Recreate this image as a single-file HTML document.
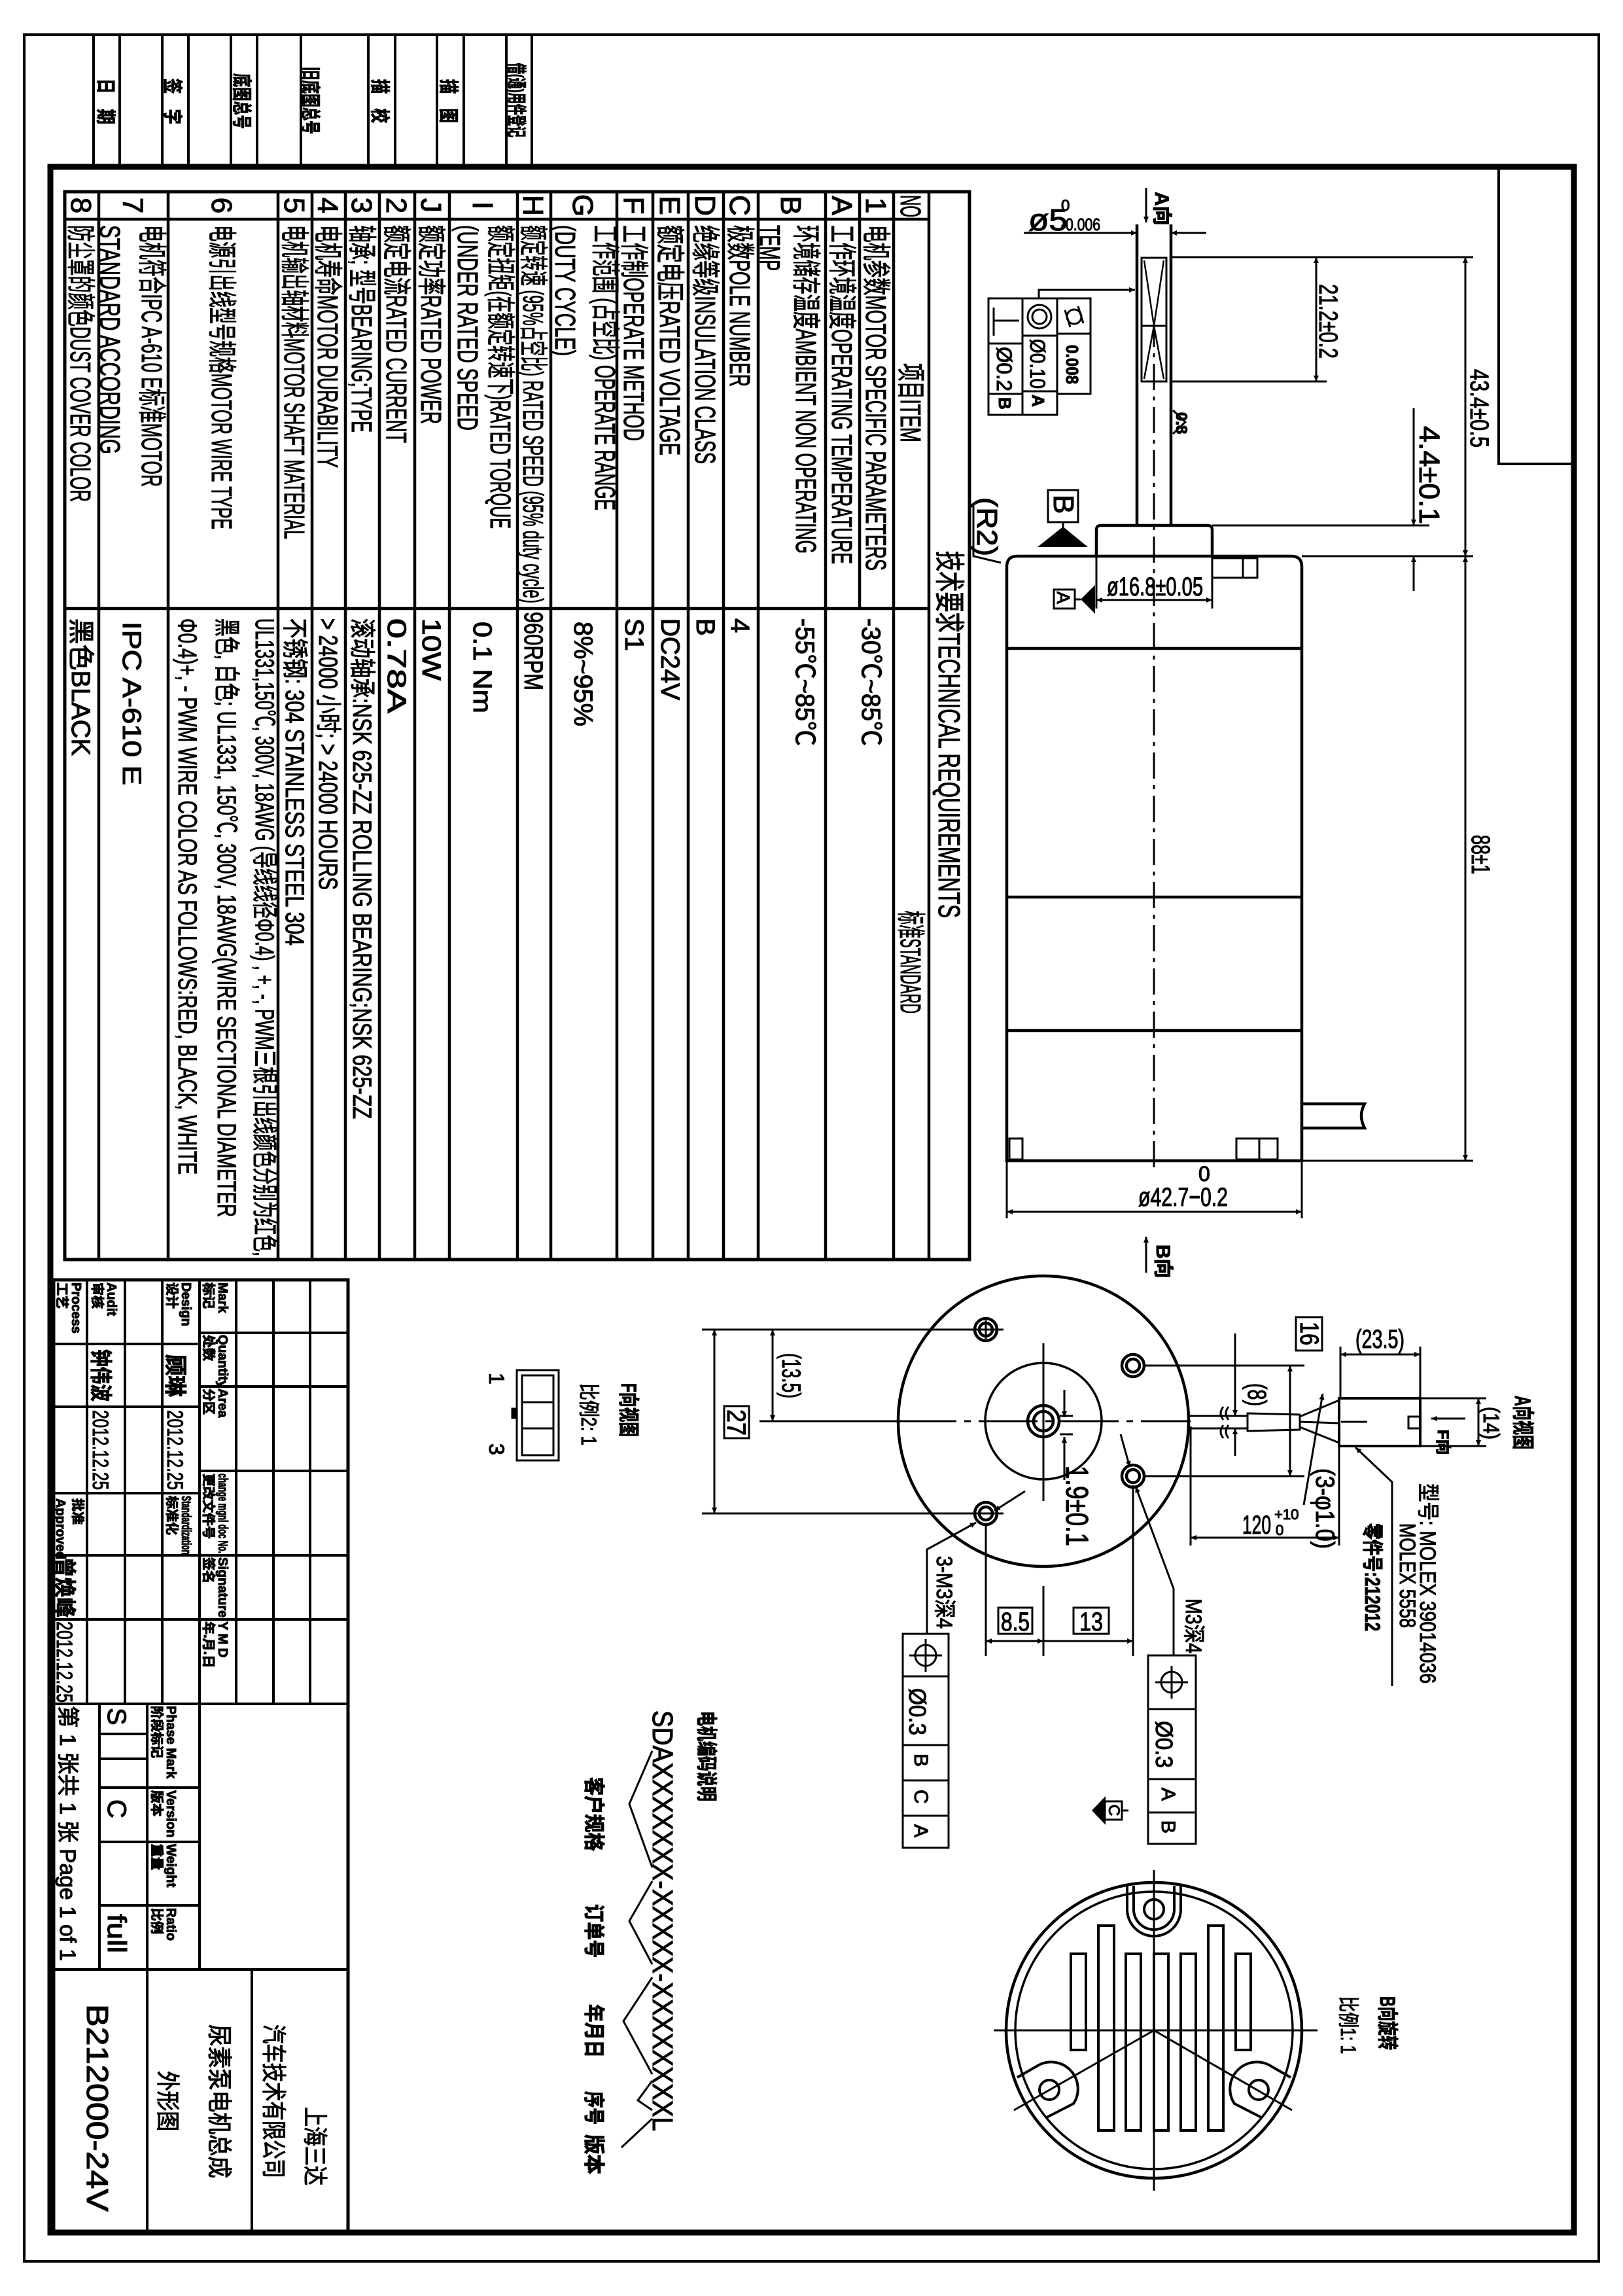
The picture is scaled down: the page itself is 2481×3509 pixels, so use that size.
<!DOCTYPE html>
<html><head><meta charset="utf-8"><style>
html,body{margin:0;padding:0;background:#fff}
svg{display:block}
text{font-family:"Liberation Sans Narrow","Liberation Sans","Noto Sans CJK SC",sans-serif;fill:#000;stroke:#000;stroke-width:1.1}
.b{font-weight:bold}
</style></head><body>
<svg width="2481" height="3509" viewBox="0 0 2481 3509" xmlns="http://www.w3.org/2000/svg">
<defs>
<marker id="a" viewBox="0 0 10 10" refX="10" refY="5" markerWidth="24" markerHeight="9" markerUnits="userSpaceOnUse" orient="auto-start-reverse"><path d="M0,0.5 L10,5 L0,9.5z"/></marker>
</defs>
<g fill="none" stroke="#000">
<rect x="37" y="53" width="2407" height="3403" stroke-width="4"/>
<rect x="77" y="255" width="2329" height="3157" stroke-width="9"/>
<g stroke-width="4">
<line x1="143" y1="53" x2="143" y2="255"/><line x1="183" y1="53" x2="183" y2="255"/>
<line x1="248" y1="53" x2="248" y2="255"/><line x1="288" y1="53" x2="288" y2="255"/>
<line x1="353" y1="53" x2="353" y2="255"/><line x1="393" y1="53" x2="393" y2="255"/>
<line x1="460" y1="53" x2="460" y2="255"/><line x1="563" y1="53" x2="563" y2="255"/>
<line x1="604" y1="53" x2="604" y2="255"/><line x1="668" y1="53" x2="668" y2="255"/>
<line x1="709" y1="53" x2="709" y2="255"/><line x1="774" y1="53" x2="774" y2="255"/>
<line x1="813" y1="53" x2="813" y2="255"/>
</g>
<polyline points="2291,255 2291,709 2406,709" stroke-width="4"/>
<rect x="99" y="293" width="1383" height="1632" stroke-width="5"/>
<g stroke-width="4.5">
<line x1="151" y1="293" x2="151" y2="1925"/><line x1="257" y1="293" x2="257" y2="1925"/>
<line x1="425" y1="293" x2="425" y2="1925"/><line x1="477" y1="293" x2="477" y2="1925"/>
<line x1="528" y1="293" x2="528" y2="1925"/><line x1="580" y1="293" x2="580" y2="1925"/>
<line x1="634" y1="293" x2="634" y2="1925"/><line x1="687" y1="293" x2="687" y2="1925"/>
<line x1="791" y1="293" x2="791" y2="1925"/><line x1="842" y1="293" x2="842" y2="1925"/>
<line x1="943" y1="293" x2="943" y2="1925"/><line x1="998" y1="293" x2="998" y2="1925"/>
<line x1="1052" y1="293" x2="1052" y2="1925"/><line x1="1106" y1="293" x2="1106" y2="1925"/>
<line x1="1159" y1="293" x2="1159" y2="1925"/><line x1="1262" y1="293" x2="1262" y2="1925"/>
<line x1="1314" y1="293" x2="1314" y2="930"/><line x1="1366" y1="293" x2="1366" y2="1925"/>
<line x1="1420" y1="293" x2="1420" y2="1925"/>
<line x1="99" y1="335" x2="1420" y2="335"/>
<line x1="99" y1="930" x2="1420" y2="930"/>
</g>
<g stroke-width="4">
<rect x="82" y="1956" width="450" height="1454" stroke-width="5"/>
<line x1="133" y1="1956" x2="133" y2="2604"/><line x1="191" y1="1956" x2="191" y2="2604"/>
<line x1="248" y1="1956" x2="248" y2="2604"/><line x1="305" y1="1956" x2="305" y2="2604"/>
<line x1="361" y1="1956" x2="361" y2="2604"/><line x1="418" y1="1956" x2="418" y2="2604"/>
<line x1="474" y1="1956" x2="474" y2="2604"/>
<line x1="82" y1="2054" x2="305" y2="2054"/><line x1="82" y1="2150" x2="305" y2="2150"/>
<line x1="82" y1="2282" x2="305" y2="2282"/><line x1="82" y1="2377" x2="532" y2="2377"/>
<line x1="82" y1="2475" x2="532" y2="2475"/>
<line x1="305" y1="2037" x2="532" y2="2037"/><line x1="305" y1="2119" x2="532" y2="2119"/>
<line x1="305" y1="2248" x2="532" y2="2248"/>
<line x1="82" y1="2604" x2="532" y2="2604"/>
<line x1="152" y1="2604" x2="152" y2="3010"/><line x1="225" y1="2604" x2="225" y2="3410"/>
<line x1="305" y1="2604" x2="305" y2="3010"/>
<line x1="152" y1="2650" x2="225" y2="2650"/><line x1="152" y1="2688" x2="225" y2="2688"/>
<line x1="152" y1="2732" x2="305" y2="2732"/><line x1="152" y1="2815" x2="305" y2="2815"/>
<line x1="152" y1="2912" x2="305" y2="2912"/>
<line x1="82" y1="3010" x2="532" y2="3010"/>
<line x1="385" y1="3010" x2="385" y2="3410"/>
</g>

<g stroke-width="4.5">
<path d="M1539,1774 L1539,866 Q1539,850 1555,850 L1974,850 Q1990,850 1990,866 L1990,1774 Z"/>
<line x1="1539" y1="991" x2="1990" y2="991"/><line x1="1539" y1="1371" x2="1990" y2="1371"/>
<line x1="1539" y1="1575" x2="1990" y2="1575"/>
<path d="M1676,850 L1676,810 Q1676,803 1683,803 L1846,803 Q1853,803 1853,810 L1853,850"/>
<line x1="1738" y1="343" x2="1738" y2="803"/><line x1="1790" y1="343" x2="1790" y2="803"/>
<rect x="1745" y="394" width="38" height="189" stroke-width="3"/>
<line x1="1745" y1="498" x2="1783" y2="498" stroke-width="3"/>
<path d="M1749,398 L1764,498 L1779,398 M1749,579 L1764,498 L1779,579" stroke-width="2.5"/>
<rect x="1853" y="853" width="69" height="30" stroke-width="3"/>
<line x1="1900" y1="853" x2="1900" y2="883" stroke-width="3"/>
<rect x="1543" y="1740" width="20" height="32" stroke-width="3"/>
<rect x="1890" y="1740" width="63" height="32" stroke-width="3"/>
<line x1="1925" y1="1740" x2="1925" y2="1772" stroke-width="3"/>
<path d="M1990,1687 L2086,1687 Q2076,1705 2086,1724 L1990,1724"/>
</g>
<line x1="1764" y1="490" x2="1764" y2="1790" stroke-width="3" stroke-dasharray="40,10,6,10"/>
<g stroke-width="3">
<line x1="1791" y1="393" x2="2252" y2="393"/><line x1="1791" y1="583" x2="2028" y2="583"/>
<line x1="1990" y1="850" x2="2252" y2="850"/><line x1="1990" y1="1774" x2="2252" y2="1774"/>
<line x1="1853" y1="803" x2="2185" y2="803"/>
<line x1="2012" y1="393" x2="2012" y2="583" marker-start="url(#a)" marker-end="url(#a)"/>
<line x1="2240" y1="393" x2="2240" y2="850" marker-start="url(#a)" marker-end="url(#a)"/>
<line x1="2240" y1="850" x2="2240" y2="1774" marker-start="url(#a)" marker-end="url(#a)"/>
<line x1="2161" y1="624" x2="2161" y2="803" marker-end="url(#a)"/>
<line x1="2161" y1="903" x2="2161" y2="850" marker-end="url(#a)"/>
<line x1="1565" y1="356" x2="1738" y2="356" marker-end="url(#a)"/>
<line x1="1844" y1="356" x2="1790" y2="356" marker-end="url(#a)"/>
<line x1="1752" y1="287" x2="1752" y2="340" marker-end="url(#a)"/>
<polyline points="1588,456 1588,443 1735,443" marker-end="url(#a)"/>
<rect x="1511" y="456" width="52" height="178"/><rect x="1563" y="456" width="53" height="178"/>
<rect x="1616" y="456" width="51" height="146"/>
<line x1="1511" y1="525" x2="1563" y2="525"/><line x1="1511" y1="602" x2="1563" y2="602"/>
<line x1="1563" y1="513" x2="1616" y2="513"/><line x1="1563" y1="598" x2="1616" y2="598"/>
<line x1="1616" y1="510" x2="1667" y2="510"/>
<line x1="1519" y1="470" x2="1519" y2="513"/><line x1="1519" y1="490" x2="1558" y2="490"/>
<circle cx="1589" cy="484" r="18"/><circle cx="1589" cy="484" r="11"/>
<circle cx="1642" cy="484" r="11"/><line x1="1628" y1="474" x2="1636" y2="500"/><line x1="1648" y1="468" x2="1656" y2="494"/>
<polyline points="1793,627 1812,645 1793,663"/>
<rect x="1602" y="749" width="46" height="49"/>
<line x1="1625" y1="798" x2="1625" y2="812"/>
<rect x="1611" y="901" width="32" height="29"/>
<line x1="1643" y1="916" x2="1652" y2="916"/>
<line x1="1676" y1="850" x2="1676" y2="930"/><line x1="1853" y1="883" x2="1853" y2="930"/>
<line x1="1676" y1="917" x2="1853" y2="917" marker-start="url(#a)" marker-end="url(#a)"/>
<polyline points="1488,770 1488,850 1530,860"/>
<line x1="1539" y1="1774" x2="1539" y2="1862"/><line x1="1990" y1="1774" x2="1990" y2="1862"/>
<line x1="1539" y1="1852" x2="1990" y2="1852" marker-start="url(#a)" marker-end="url(#a)"/>
<line x1="1752" y1="1945" x2="1752" y2="1890" marker-end="url(#a)"/>
</g>
<path d="M1586,836 L1663,836 L1625,805 Z" fill="#000" stroke="none"/>
<path d="M1652,916 L1674,894 L1674,938 Z" fill="#000" stroke="none"/>

<g stroke-width="4.5">
<circle cx="1595" cy="2172" r="222"/>
<circle cx="1595" cy="2172" r="89" stroke-width="3.5"/>
<circle cx="1595" cy="2172" r="24"/><circle cx="1595" cy="2172" r="15"/>
<circle cx="1507" cy="2032" r="17"/><circle cx="1507" cy="2032" r="10"/>
<circle cx="1732" cy="2087" r="17"/><circle cx="1732" cy="2087" r="10"/>
<circle cx="1732" cy="2256" r="17"/><circle cx="1732" cy="2256" r="10"/>
<circle cx="1507" cy="2313" r="17"/><circle cx="1507" cy="2313" r="10"/>
</g>
<g stroke-width="3">
<line x1="1372" y1="2172" x2="1820" y2="2172" stroke-dasharray="90,12,10,12"/>
<line x1="1595" y1="2053" x2="1595" y2="2294"/>
<line x1="1480" y1="2032" x2="1534" y2="2032"/><line x1="1507" y1="2018" x2="1507" y2="2046"/>
<line x1="1073" y1="2032" x2="1480" y2="2032"/><line x1="1073" y1="2313" x2="1534" y2="2313"/>
<line x1="1161" y1="2172" x2="1372" y2="2172"/>
<line x1="1092" y1="2032" x2="1092" y2="2313" marker-start="url(#a)" marker-end="url(#a)"/>
<line x1="1181" y1="2032" x2="1181" y2="2172" marker-start="url(#a)" marker-end="url(#a)"/>
<rect x="1107" y="2149" width="38" height="49"/>
<line x1="1507" y1="2328" x2="1507" y2="2531"/><line x1="1595" y1="2424" x2="1595" y2="2531"/>
<line x1="1732" y1="2270" x2="1732" y2="2531"/>
<line x1="1595" y1="2508" x2="1507" y2="2508" marker-end="url(#a)"/>
<line x1="1507" y1="2508" x2="1595" y2="2508" marker-end="url(#a)"/>
<line x1="1595" y1="2508" x2="1732" y2="2508" marker-end="url(#a)"/>
<rect x="1526" y="2457" width="52" height="40"/><rect x="1641" y="2457" width="54" height="40"/>
<line x1="1627" y1="2124" x2="1627" y2="2166" marker-end="url(#a)"/>
<line x1="1627" y1="2262" x2="1627" y2="2196" marker-end="url(#a)"/>
<line x1="1620" y1="2164" x2="1640" y2="2164"/><line x1="1620" y1="2192" x2="1640" y2="2192"/>
<polyline points="1417,2497 1417,2368 1492,2327" marker-end="url(#a)"/>
<line x1="1567" y1="2279" x2="1520" y2="2309" marker-end="url(#a)"/>
<polyline points="1794,2530 1794,2428 1736,2272" marker-end="url(#a)"/>
<line x1="1713" y1="2192" x2="1727" y2="2242" marker-end="url(#a)"/>
<rect x="1380" y="2497" width="70" height="327"/>
<line x1="1380" y1="2562" x2="1450" y2="2562"/><line x1="1380" y1="2667" x2="1450" y2="2667"/>
<line x1="1380" y1="2721" x2="1450" y2="2721"/><line x1="1380" y1="2775" x2="1450" y2="2775"/>
<circle cx="1415" cy="2530" r="16"/><line x1="1390" y1="2530" x2="1440" y2="2530"/><line x1="1415" y1="2505" x2="1415" y2="2555"/>
<rect x="1755" y="2530" width="73" height="288"/>
<line x1="1755" y1="2612" x2="1828" y2="2612"/><line x1="1755" y1="2719" x2="1828" y2="2719"/>
<line x1="1755" y1="2770" x2="1828" y2="2770"/>
<circle cx="1791" cy="2571" r="16"/><line x1="1766" y1="2571" x2="1816" y2="2571"/><line x1="1791" y1="2546" x2="1791" y2="2596"/>
<rect x="1689" y="2753" width="26" height="28"/><line x1="1715" y1="2767" x2="1725" y2="2767"/>
<line x1="1817" y1="2164" x2="1907" y2="2164"/><line x1="1817" y1="2183" x2="1907" y2="2183"/>
<path d="M1870,2150 Q1862,2160 1870,2170 M1878,2150 Q1870,2160 1878,2170 M1870,2178 Q1862,2188 1870,2198 M1878,2178 Q1870,2188 1878,2198"/>
<path d="M1907,2160 L1987,2162 L1987,2185 L1907,2187 Z"/>
<path d="M1987,2165 L2047,2140 M1987,2173 L2047,2175 M1987,2181 L2047,2205"/>
<line x1="1888" y1="2038" x2="1888" y2="2164" marker-end="url(#a)"/>
<line x1="1888" y1="2225" x2="1888" y2="2183" marker-end="url(#a)"/>
<line x1="1750" y1="2087" x2="1994" y2="2087"/><line x1="1750" y1="2256" x2="1994" y2="2256"/>
<line x1="1972" y1="2087" x2="1972" y2="2256" marker-start="url(#a)" marker-end="url(#a)"/>
<rect x="1981" y="2013" width="40" height="51"/>
<line x1="1993" y1="2300" x2="2022" y2="2130" marker-end="url(#a)"/>
<line x1="1820" y1="2180" x2="1820" y2="2362"/><line x1="2047" y1="2210" x2="2047" y2="2362"/>
<line x1="1820" y1="2350" x2="2047" y2="2350" marker-start="url(#a)" marker-end="url(#a)"/>
<rect x="2047" y="2137" width="124" height="73" stroke-width="4"/>
<rect x="2153" y="2165" width="18" height="18"/>
<line x1="2050" y1="2173" x2="2090" y2="2173"/>
<line x1="2171" y1="2137" x2="2272" y2="2137"/><line x1="2171" y1="2210" x2="2272" y2="2210"/>
<line x1="2260" y1="2137" x2="2260" y2="2210" marker-start="url(#a)" marker-end="url(#a)"/>
<line x1="2240" y1="2168" x2="2188" y2="2168" marker-end="url(#a)"/>
<line x1="2049" y1="2058" x2="2049" y2="2137"/><line x1="2171" y1="2058" x2="2171" y2="2137"/>
<line x1="2049" y1="2070" x2="2171" y2="2070" marker-start="url(#a)" marker-end="url(#a)"/>
<polyline points="2128,2577 2128,2265 2072,2212" marker-end="url(#a)"/>
<rect x="790" y="2094" width="64" height="138"/>
<rect x="798" y="2102" width="48" height="122"/>
<line x1="798" y1="2143" x2="846" y2="2143"/><line x1="798" y1="2183" x2="846" y2="2183"/>
<rect x="783" y="2153" width="7" height="14" fill="#000"/>
<polyline points="997,2676 962,2757 997,2854"/>
<polyline points="997,2875 962,2936 997,3002"/>
<polyline points="997,3022 953,3089 997,3170"/>
<polyline points="997,3180 975,3210 997,3225"/>
<line x1="997" y1="3238" x2="950" y2="3282"/>
</g>
<path d="M1669,2767 L1690,2745 L1690,2789 Z" fill="#000" stroke="none"/>

<g stroke-width="4.5">
<circle cx="1764" cy="3103" r="226"/>
<circle cx="1764" cy="3103" r="212" stroke-width="3.5"/>
<g stroke-width="4">
<rect x="1637" y="2986" width="23" height="147"/><rect x="1679" y="2943" width="24" height="313"/>
<rect x="1721" y="2986" width="23" height="270"/><rect x="1764" y="2986" width="22" height="270"/>
<rect x="1805" y="2986" width="23" height="270"/><rect x="1847" y="2943" width="23" height="313"/>
<rect x="1889" y="2986" width="23" height="147"/>
<circle cx="1764" cy="2918" r="15"/><circle cx="1604" cy="3194" r="15"/><circle cx="1924" cy="3194" r="15"/>
<path d="M1723,2882 L1723,2918 A41,41 0 0 0 1805,2918 L1805,2882"/>
<path d="M1733,2882 L1733,2918 A31,31 0 0 0 1795,2918 L1795,2882"/>
<path d="M1555,3175 L1588,3156 A41,41 0 0 1 1641,3215 L1600,3236"/>
<path d="M1973,3175 L1940,3156 A41,41 0 0 0 1887,3215 L1928,3236"/>
</g>
</g>
<g stroke-width="3">
<line x1="1764" y1="2858" x2="1764" y2="3348"/>
<line x1="1519" y1="3103" x2="2014" y2="3103"/>
<line x1="1764" y1="3103" x2="1550" y2="3225"/>
<line x1="1764" y1="3103" x2="1975" y2="3225"/>
</g>
</g>

<g class="b" font-size="30">
<text transform="translate(151,120) rotate(90)" textLength="70" lengthAdjust="spacingAndGlyphs">日　期</text>
<text transform="translate(253,120) rotate(90)" textLength="70" lengthAdjust="spacingAndGlyphs">签　字</text>
<text transform="translate(359,112) rotate(90)" textLength="85" lengthAdjust="spacingAndGlyphs">底图总号</text>
<text transform="translate(464,102) rotate(90)" textLength="103" lengthAdjust="spacingAndGlyphs">旧底图总号</text>
<text transform="translate(570,121) rotate(90)" textLength="67" lengthAdjust="spacingAndGlyphs">描　校</text>
<text transform="translate(675,121) rotate(90)" textLength="67" lengthAdjust="spacingAndGlyphs">描　图</text>
<text transform="translate(779,96) rotate(90)" textLength="114" lengthAdjust="spacingAndGlyphs">借(通)用件登记</text>
</g>

<g font-size="44" text-anchor="middle">
<text transform="translate(109,314) rotate(90)">8</text>
<text transform="translate(188,314) rotate(90)">7</text>
<text transform="translate(324,314) rotate(90)">6</text>
<text transform="translate(435,314) rotate(90)">5</text>
<text transform="translate(486,314) rotate(90)">4</text>
<text transform="translate(538,314) rotate(90)">3</text>
<text transform="translate(591,314) rotate(90)">2</text>
<text transform="translate(644,314) rotate(90)">J</text>
<text transform="translate(723,314) rotate(90)">I</text>
<text transform="translate(800,314) rotate(90)">H</text>
<text transform="translate(876,314) rotate(90)">G</text>
<text transform="translate(954,314) rotate(90)">F</text>
<text transform="translate(1009,314) rotate(90)">E</text>
<text transform="translate(1063,314) rotate(90)">D</text>
<text transform="translate(1116,314) rotate(90)">C</text>
<text transform="translate(1194,314) rotate(90)">B</text>
<text transform="translate(1272,314) rotate(90)">A</text>
<text transform="translate(1324,314) rotate(90)">1</text>
</g>
<text transform="translate(1377,298) rotate(90)" font-size="44" textLength="34" lengthAdjust="spacingAndGlyphs">NO</text>
<text transform="translate(1377,555) rotate(90)" font-size="44" textLength="121" lengthAdjust="spacingAndGlyphs">项目ITEM</text>
<text transform="translate(1377,1392) rotate(90)" font-size="44" textLength="157" lengthAdjust="spacingAndGlyphs">标准STANDARD</text>
<text transform="translate(1435,842) rotate(90)" font-size="46" textLength="561" lengthAdjust="spacingAndGlyphs">技术要求TECHNICAL REQUIREMENTS</text>

<g font-size="44">
<text transform="translate(1324,344) rotate(90)" textLength="528" lengthAdjust="spacingAndGlyphs">电机参数MOTOR SPECIFIC PARAMETERS</text>
<text transform="translate(1272,344) rotate(90)" textLength="518" lengthAdjust="spacingAndGlyphs">工作环境温度OPERATING TEMPERATURE</text>
<text transform="translate(1217,344) rotate(90)" textLength="502" lengthAdjust="spacingAndGlyphs">环境储存温度AMBIENT NON OPERATING</text>
<text transform="translate(1162,344) rotate(90)" textLength="70" lengthAdjust="spacingAndGlyphs">TEMP</text>
<text transform="translate(1116,344) rotate(90)" textLength="247" lengthAdjust="spacingAndGlyphs">极数POLE NUMBER</text>
<text transform="translate(1063,344) rotate(90)" textLength="365" lengthAdjust="spacingAndGlyphs">绝缘等级INSULATION CLASS</text>
<text transform="translate(1009,344) rotate(90)" textLength="352" lengthAdjust="spacingAndGlyphs">额定电压RATED VOLTAGE</text>
<text transform="translate(954,344) rotate(90)" textLength="330" lengthAdjust="spacingAndGlyphs">工作制OPERATE METHOD</text>
<text transform="translate(910,344) rotate(90)" textLength="436" lengthAdjust="spacingAndGlyphs">工作范围 (占空比) OPERATE RANGE</text>
<text transform="translate(849,344) rotate(90)" textLength="200" lengthAdjust="spacingAndGlyphs">(DUTY CYCLE)</text>
<text transform="translate(800,344) rotate(90)" textLength="578" lengthAdjust="spacingAndGlyphs">额定转速 (95%占空比) RATED SPEED (95% duty cycle)</text>
<text transform="translate(750,344) rotate(90)" textLength="464" lengthAdjust="spacingAndGlyphs">额定扭矩(在额定转速下)RATED TORQUE</text>
<text transform="translate(700,344) rotate(90)" textLength="314" lengthAdjust="spacingAndGlyphs">(UNDER RATED SPEED</text>
<text transform="translate(644,344) rotate(90)" textLength="304" lengthAdjust="spacingAndGlyphs">额定功率RATED POWER</text>
<text transform="translate(591,344) rotate(90)" textLength="333" lengthAdjust="spacingAndGlyphs">额定电流RATED CURRENT</text>
<text transform="translate(538,344) rotate(90)" textLength="317" lengthAdjust="spacingAndGlyphs">轴承; 型号BEARING;TYPE</text>
<text transform="translate(486,344) rotate(90)" textLength="371" lengthAdjust="spacingAndGlyphs">电机寿命MOTOR DURABILITY</text>
<text transform="translate(435,344) rotate(90)" textLength="480" lengthAdjust="spacingAndGlyphs">电机输出轴材料MOTOR SHAFT MATERIAL</text>
<text transform="translate(324,344) rotate(90)" textLength="465" lengthAdjust="spacingAndGlyphs">电源引出线型号规格MOTOR WIRE TYPE</text>
<text transform="translate(217,344) rotate(90)" textLength="400" lengthAdjust="spacingAndGlyphs">电机符合IPC A-610 E标准MOTOR</text>
<text transform="translate(153,344) rotate(90)" textLength="350" lengthAdjust="spacingAndGlyphs">STANDARD  ACCORDING</text>
<text transform="translate(108,344) rotate(90)" textLength="423" lengthAdjust="spacingAndGlyphs">防尘罩的颜色DUST COVER COLOR</text>
</g>
<g font-size="40">
<text transform="translate(1318,945) rotate(90)" textLength="195" lengthAdjust="spacingAndGlyphs">-30℃~85℃</text>
<text transform="translate(1217,945) rotate(90)" textLength="195" lengthAdjust="spacingAndGlyphs">-55℃~85℃</text>
<text transform="translate(1118,945) rotate(90)">4</text>
<text transform="translate(1065,945) rotate(90)">B</text>
<text transform="translate(1011,945) rotate(90)" textLength="125" lengthAdjust="spacingAndGlyphs">DC24V</text>
<text transform="translate(956,945) rotate(90)" textLength="50" lengthAdjust="spacingAndGlyphs">S1</text>
<text transform="translate(878,950) rotate(90)" textLength="160" lengthAdjust="spacingAndGlyphs">8%~95%</text>
<text transform="translate(802,935) rotate(90)" textLength="120" lengthAdjust="spacingAndGlyphs">960RPM</text>
<text transform="translate(724,950) rotate(90)" textLength="140" lengthAdjust="spacingAndGlyphs">0.1 Nm</text>
<text transform="translate(646,945) rotate(90)" textLength="95" lengthAdjust="spacingAndGlyphs">10W</text>
<text transform="translate(593,945) rotate(90)" textLength="145" lengthAdjust="spacingAndGlyphs">0.78A</text>
<text transform="translate(540,945) rotate(90)" textLength="765" lengthAdjust="spacingAndGlyphs">滚动轴承:NSK 625-ZZ   ROLLING BEARING;NSK 625-ZZ</text>
<text transform="translate(488,945) rotate(90)" textLength="415" lengthAdjust="spacingAndGlyphs">&gt; 24000 小时; &gt; 24000 HOURS</text>
<text transform="translate(437,945) rotate(90)" textLength="500" lengthAdjust="spacingAndGlyphs">不锈钢: 304  STAINLESS STEEL 304</text>
<text transform="translate(391,945) rotate(90)" textLength="975" lengthAdjust="spacingAndGlyphs">UL1331,150℃, 300V, 18AWG (导线线径Φ0.4) , +, -, PWM三根引出线颜色分别为红色,</text>
<text transform="translate(333,945) rotate(90)" textLength="915" lengthAdjust="spacingAndGlyphs">黑色, 白色;  UL1331, 150℃, 300V, 18AWG(WIRE SECTIONAL DIAMETER</text>
<text transform="translate(273,945) rotate(90)" textLength="850" lengthAdjust="spacingAndGlyphs">Φ0.4)+, - PWM WIRE COLOR AS FOLLOWS:RED, BLACK, WHITE</text>
<text transform="translate(188,950) rotate(90)" textLength="250" lengthAdjust="spacingAndGlyphs">IPC A-610 E</text>
<text transform="translate(110,945) rotate(90)" textLength="210" lengthAdjust="spacingAndGlyphs">黑色BLACK</text>
</g>

<g font-size="20" class="b">
<text transform="translate(88,1960) rotate(90)">工艺</text>
<text transform="translate(110,1960) rotate(90)">Process</text>
<text transform="translate(142,1960) rotate(90)">审核</text>
<text transform="translate(164,1960) rotate(90)">Audit</text>
<text transform="translate(256,1960) rotate(90)">设计</text>
<text transform="translate(278,1960) rotate(90)">Design</text>
<text transform="translate(312,1960) rotate(90)">标记</text>
<text transform="translate(334,1960) rotate(90)">Mark</text>
<text transform="translate(312,2040) rotate(90)">处数</text>
<text transform="translate(334,2040) rotate(90)">Quantity</text>
<text transform="translate(312,2122) rotate(90)">分区</text>
<text transform="translate(334,2122) rotate(90)">Area</text>
<text transform="translate(312,2252) rotate(90)">更改文件号</text>
<text transform="translate(334,2252) rotate(90)" textLength="122" lengthAdjust="spacingAndGlyphs">change mgnl doc No.</text>
<text transform="translate(312,2380) rotate(90)">签名</text>
<text transform="translate(334,2380) rotate(90)">Signature</text>
<text transform="translate(312,2478) rotate(90)">年.月.日</text>
<text transform="translate(334,2478) rotate(90)">Y  M  D</text>
<text transform="translate(256,2286) rotate(90)">标准化</text>
<text transform="translate(278,2286) rotate(90)" textLength="90" lengthAdjust="spacingAndGlyphs">Standardization</text>
<text transform="translate(112,2290) rotate(90)">批准</text>
<text transform="translate(86,2290) rotate(90)">Approved</text>
<text transform="translate(233,2607) rotate(90)">阶段标记</text>
<text transform="translate(255,2607) rotate(90)">Phase Mark</text>
<text transform="translate(233,2736) rotate(90)">版本</text>
<text transform="translate(255,2736) rotate(90)">Version</text>
<text transform="translate(233,2818) rotate(90)">重量</text>
<text transform="translate(255,2818) rotate(90)">Weight</text>
<text transform="translate(233,2916) rotate(90)">比例</text>
<text transform="translate(255,2916) rotate(90)">Ratio</text>
</g>
<g font-size="34">
<text transform="translate(142,2062) rotate(90)" class="b" textLength="80" lengthAdjust="spacingAndGlyphs">钟伟波</text>
<text transform="translate(256,2070) rotate(90)" class="b" textLength="65" lengthAdjust="spacingAndGlyphs">顾琳</text>
<text transform="translate(142,2155) rotate(90)" textLength="122" lengthAdjust="spacingAndGlyphs">2012.12.25</text>
<text transform="translate(256,2155) rotate(90)" textLength="122" lengthAdjust="spacingAndGlyphs">2012.12.25</text>
<text transform="translate(87,2380) rotate(90)" class="b" textLength="92" lengthAdjust="spacingAndGlyphs">曾焕峰</text>
<text transform="translate(87,2478) rotate(90)" textLength="124" lengthAdjust="spacingAndGlyphs">2012.12.25</text>
<text transform="translate(92,2607) rotate(90)" textLength="390" lengthAdjust="spacingAndGlyphs">第 1 张共 1 张  Page 1 of 1</text>
<text transform="translate(165,2610) rotate(90)" font-size="40">S</text>
<text transform="translate(165,2750) rotate(90)" font-size="40">C</text>
<text transform="translate(165,2925) rotate(90)" font-size="40" textLength="60" lengthAdjust="spacingAndGlyphs">full</text>
<text transform="translate(133,3063) rotate(90)" font-size="46" textLength="317" lengthAdjust="spacingAndGlyphs">B212000-24V</text>
<text transform="translate(244,3165) rotate(90)" font-size="36" textLength="92" lengthAdjust="spacingAndGlyphs">外形图</text>
<text transform="translate(322,3094) rotate(90)" font-size="38" textLength="235" lengthAdjust="spacingAndGlyphs">尿素泵电机总成</text>
<text transform="translate(405,3094) rotate(90)" font-size="38" textLength="235" lengthAdjust="spacingAndGlyphs">汽车技术有限公司</text>
<text transform="translate(468,3220) rotate(90)" font-size="38" textLength="120" lengthAdjust="spacingAndGlyphs">上海三达</text>
</g>

<g font-size="32">
<text transform="translate(950,2114) rotate(90)" class="b" textLength="82" lengthAdjust="spacingAndGlyphs">F向视图</text>
<text transform="translate(889,2114) rotate(90)" textLength="95" lengthAdjust="spacingAndGlyphs">比例2: 1</text>
<text transform="translate(748,2098) rotate(90)">1</text>
<text transform="translate(748,2206) rotate(90)">3</text>
<text transform="translate(1069,2615) rotate(90)" class="b" textLength="138" lengthAdjust="spacingAndGlyphs">电机编码说明</text>
<text transform="translate(998,2614) rotate(90)" font-size="44" textLength="643" lengthAdjust="spacingAndGlyphs">SDAXXXXXXX-XXXXX-XXXXXXXXL</text>
<text transform="translate(897,2716) rotate(90)" class="b" textLength="113" lengthAdjust="spacingAndGlyphs">客户规格</text>
<text transform="translate(897,2910) rotate(90)" class="b" textLength="82" lengthAdjust="spacingAndGlyphs">订单号</text>
<text transform="translate(897,3063) rotate(90)" class="b" textLength="82" lengthAdjust="spacingAndGlyphs">年月日</text>
<text transform="translate(897,3196) rotate(90)" class="b" textLength="51" lengthAdjust="spacingAndGlyphs">序号</text>
<text transform="translate(897,3262) rotate(90)" class="b" textLength="61" lengthAdjust="spacingAndGlyphs">版本</text>
</g>

<g font-size="40">
<text x="1572" y="352" font-size="46" textLength="60" lengthAdjust="spacingAndGlyphs">ø5</text>
<text x="1622" y="322" font-size="24">0</text>
<text x="1622" y="352" font-size="26" textLength="60" lengthAdjust="spacingAndGlyphs">-0.006</text>
<text transform="translate(1766,293) rotate(90)" font-size="30" class="b">A向</text>
<text transform="translate(2017,434) rotate(90)" textLength="114" lengthAdjust="spacingAndGlyphs">21.2±0.2</text>
<text transform="translate(2248,564) rotate(90)" textLength="120" lengthAdjust="spacingAndGlyphs">43.4±0.5</text>
<text transform="translate(2250,1276) rotate(90)" textLength="60" lengthAdjust="spacingAndGlyphs">88±1</text>
<text transform="translate(2170,651) rotate(90)" font-size="44" textLength="150" lengthAdjust="spacingAndGlyphs">4.4±0.1</text>
<text transform="translate(1798,630) rotate(90)" font-size="24" class="b">0.8</text>
<text transform="translate(1494,760) rotate(90)" font-size="44" textLength="90" lengthAdjust="spacingAndGlyphs">(R2)</text>
<text transform="translate(1611,756) rotate(90)" font-size="44">B</text>
<text transform="translate(1616,904) rotate(90)" font-size="28">A</text>
<text x="1692" y="910" textLength="147" lengthAdjust="spacingAndGlyphs">ø16.8±0.05</text>
<text x="1832" y="1805" font-size="32">0</text>
<text x="1740" y="1843" textLength="137" lengthAdjust="spacingAndGlyphs">ø42.7−0.2</text>
<text transform="translate(1768,1902) rotate(90)" font-size="30" class="b">B向</text>
<text transform="translate(1524,530) rotate(90)" font-size="32" textLength="68" lengthAdjust="spacingAndGlyphs">Ø0.2</text>
<text transform="translate(1527,607) rotate(90)" font-size="26" class="b">B</text>
<text transform="translate(1575,518) rotate(90)" font-size="32" textLength="76" lengthAdjust="spacingAndGlyphs">Ø0.10</text>
<text transform="translate(1578,603) rotate(90)" font-size="26" class="b">A</text>
<text transform="translate(1630,527) rotate(90)" font-size="26" class="b" textLength="60" lengthAdjust="spacingAndGlyphs">0.008</text>
</g>

<g font-size="40">
<text transform="translate(1112,2154) rotate(90)" textLength="40" lengthAdjust="spacingAndGlyphs">27</text>
<text transform="translate(1196,2068) rotate(90)" textLength="69" lengthAdjust="spacingAndGlyphs">(13.5)</text>
<text transform="translate(1630,2240) rotate(90)" font-size="48" textLength="123" lengthAdjust="spacingAndGlyphs">1.9±0.1</text>
<text x="1530" y="2492" textLength="44" lengthAdjust="spacingAndGlyphs">8.5</text>
<text x="1650" y="2492" textLength="36" lengthAdjust="spacingAndGlyphs">13</text>
<text transform="translate(1432,2378) rotate(90)" font-size="34" textLength="111" lengthAdjust="spacingAndGlyphs">3-M3深4</text>
<text transform="translate(1813,2443) rotate(90)" font-size="34" textLength="84" lengthAdjust="spacingAndGlyphs">M3深4</text>
<text transform="translate(1390,2580) rotate(90)" font-size="36" textLength="72" lengthAdjust="spacingAndGlyphs">Ø0.3</text>
<text transform="translate(1398,2680) rotate(90)" font-size="30">B</text>
<text transform="translate(1398,2735) rotate(90)" font-size="30">C</text>
<text transform="translate(1398,2788) rotate(90)" font-size="30">A</text>
<text transform="translate(1767,2630) rotate(90)" font-size="36" textLength="72" lengthAdjust="spacingAndGlyphs">Ø0.3</text>
<text transform="translate(1776,2732) rotate(90)" font-size="30">A</text>
<text transform="translate(1776,2782) rotate(90)" font-size="30">B</text>
<text transform="translate(1695,2758) rotate(90)" font-size="24">C</text>
<text transform="translate(1988,2020) rotate(90)" textLength="36" lengthAdjust="spacingAndGlyphs">16</text>
<text transform="translate(1908,2114) rotate(90)" textLength="35" lengthAdjust="spacingAndGlyphs">(8)</text>
<text transform="translate(2012,2244) rotate(90)" textLength="123" lengthAdjust="spacingAndGlyphs">(3-φ1.0)</text>
<text x="1899" y="2344" textLength="44" lengthAdjust="spacingAndGlyphs">120</text>
<text x="1948" y="2322" font-size="22">+10</text>
<text x="1950" y="2346" font-size="22">0</text>
<text x="2072" y="2060" textLength="75" lengthAdjust="spacingAndGlyphs">(23.5)</text>
<text transform="translate(2268,2150) rotate(90)" font-size="34" textLength="50" lengthAdjust="spacingAndGlyphs">(14)</text>
<text transform="translate(2198,2185) rotate(90)" font-size="24" class="b">F向</text>
<text transform="translate(2316,2133) rotate(90)" font-size="34" class="b" textLength="82" lengthAdjust="spacingAndGlyphs">A向视图</text>
<text transform="translate(2171,2267) rotate(90)" font-size="34" textLength="306" lengthAdjust="spacingAndGlyphs">型号: MOLEX 39014036</text>
<text transform="translate(2140,2328) rotate(90)" font-size="34" textLength="160" lengthAdjust="spacingAndGlyphs">MOLEX 5558</text>
<text transform="translate(2087,2328) rotate(90)" font-size="32" class="b" textLength="165" lengthAdjust="spacingAndGlyphs">零件号:212012</text>
<text transform="translate(2110,3051) rotate(90)" font-size="32" class="b" textLength="82" lengthAdjust="spacingAndGlyphs">B向旋转</text>
<text transform="translate(2050,3051) rotate(90)" font-size="32" textLength="88" lengthAdjust="spacingAndGlyphs">比例1: 1</text>
</g>
</svg>
</body></html>
